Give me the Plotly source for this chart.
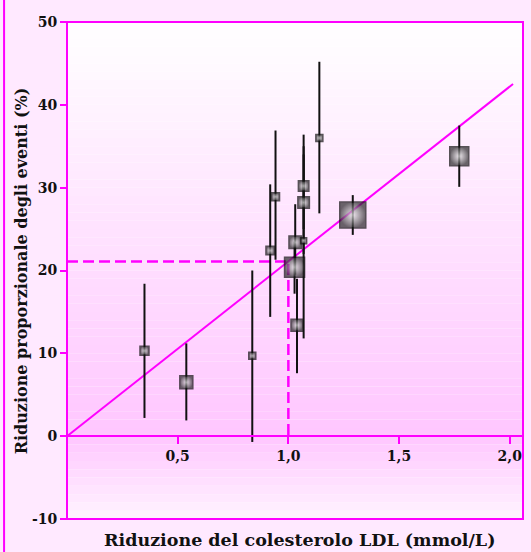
import plotly.graph_objects as go

# ---- data ----
ldl_reduction = [0.350, 0.539, 0.837, 0.918, 0.942, 1.031, 1.028, 1.069, 1.069, 1.069, 1.039, 1.140, 1.291, 1.772]
risk_reduction = [10.3, 6.5, 9.7, 22.4, 28.9, 23.4, 20.4, 23.6, 30.2, 28.2, 13.4, 36.0, 26.7, 33.8]
ci_low = [2.2, 1.9, -0.7, 14.4, 21.3, 19.5, 17.2, 11.8, 25.0, 22.0, 7.6, 26.9, 24.3, 30.1]
ci_high = [18.4, 11.2, 20.0, 30.4, 36.9, 28.0, 23.5, 35.0, 36.4, 34.0, 19.0, 45.2, 29.1, 37.5]
weight = [9, 13, 7, 8.5, 8, 12.5, 20, 6, 10.5, 11.5, 12, 7, 26, 19]

trend_x = [0.0, 2.015]
trend_slope = 21.1
ref_x = 1.0

x_tickvals = [0.5, 1.0, 1.5, 2.0]
x_ticktext = ["0,5", "1,0", "1,5", "2,0"]
y_tickvals = [-10, 0, 10, 20, 30, 40, 50]
y_ticktext = ["-10", "0", "10", "20", "30", "40", "50"]

x_title = "Riduzione del colesterolo LDL (mmol/L)"
y_title = "Riduzione proporzionale degli eventi (%)"

MAG = "#ff00ff"
FONT = "DejaVu Serif"

fig = go.Figure()

# trend line
fig.add_trace(go.Scatter(
    x=trend_x, y=[v * trend_slope for v in trend_x], mode="lines",
    line=dict(color=MAG, width=2), hoverinfo="skip", showlegend=False))

# dashed reference lines
ref_y = ref_x * trend_slope
fig.add_trace(go.Scatter(
    x=[0, ref_x, ref_x], y=[ref_y, ref_y, 0], mode="lines",
    line=dict(color=MAG, width=2.5, dash="11px,5px"), hoverinfo="skip", showlegend=False))

# points with CI
fig.add_trace(go.Scatter(
    x=ldl_reduction, y=risk_reduction, mode="markers",
    marker=dict(symbol="square", size=weight, color="#2a2a2a",
                gradient=dict(type="radial", color="#e8e8e8"),
                line=dict(color="#111111", width=1.5)),
    error_y=dict(type="data", symmetric=False,
                 array=[h - v for h, v in zip(ci_high, risk_reduction)],
                 arrayminus=[v - l for v, l in zip(risk_reduction, ci_low)],
                 color="#111111", thickness=2, width=0),
    showlegend=False))

# plot-area background gradient
def lerp(c1, c2, t):
    return "rgb(%d,%d,%d)" % tuple(round(a + (b - a) * t) for a, b in zip(c1, c2))

top_c, mid_c, bot_c = (255, 255, 255), (255, 198, 255), (255, 244, 255)
shapes = []
for k in range(-10, 50):
    yc = k + 0.5
    if yc >= 0:
        col = lerp(mid_c, top_c, yc / 50)
    else:
        col = lerp(mid_c, bot_c, -yc / 10)
    shapes.append(dict(type="rect", xref="paper", yref="y", x0=0, x1=1, y0=k, y1=k + 1,
                       fillcolor=col, line=dict(width=0), layer="below"))

# plot border
shapes.append(dict(type="rect", xref="paper", yref="paper", x0=0, x1=1, y0=0, y1=1,
                   line=dict(color=MAG, width=2), layer="above"))
# outer left frame line
shapes.append(dict(type="line", xref="paper", yref="paper", x0=-0.138, x1=-0.138, y0=-0.1, y1=1.1,
                   line=dict(color=MAG, width=2)))

bold = lambda s: "<b>" + s + "</b>"

fig.update_layout(
    width=531, height=552,
    margin=dict(l=67, r=8, t=22, b=33),
    paper_bgcolor="#ffe9ff", plot_bgcolor="#ffffff",
    shapes=shapes,
    xaxis=dict(range=[0, 2.06], anchor="free", position=1/6,
               tickvals=x_tickvals, ticktext=[bold(t) for t in x_ticktext],
               showgrid=False, zeroline=False, showline=True, linecolor=MAG, linewidth=2,
               ticks="outside", ticklen=7, tickwidth=2, tickcolor=MAG,
               tickfont=dict(family=FONT, size=14, color="#111111")),
    yaxis=dict(range=[-10, 50], tickvals=y_tickvals, ticktext=[bold(t) for t in y_ticktext],
               showgrid=False, zeroline=False, showline=False,
               ticks="outside", ticklen=6, tickwidth=2, tickcolor=MAG,
               tickfont=dict(family=FONT, size=14, color="#111111")),
    annotations=[
        dict(text=bold(x_title), xref="paper", yref="paper", x=0.51, y=-0.043,
             xanchor="center", yanchor="middle", showarrow=False,
             font=dict(family=FONT, size=17.5, color="#111111")),
        dict(text=bold(y_title), xref="paper", yref="paper", x=-0.099, y=0.5,
             xanchor="center", yanchor="middle", textangle=-90, showarrow=False,
             font=dict(family=FONT, size=16, color="#111111")),
    ],
)

fig.write_html("out.html", config={"displayModeBar": False},
               post_script="document.body.style.margin='0';document.body.style.overflow='hidden';")
